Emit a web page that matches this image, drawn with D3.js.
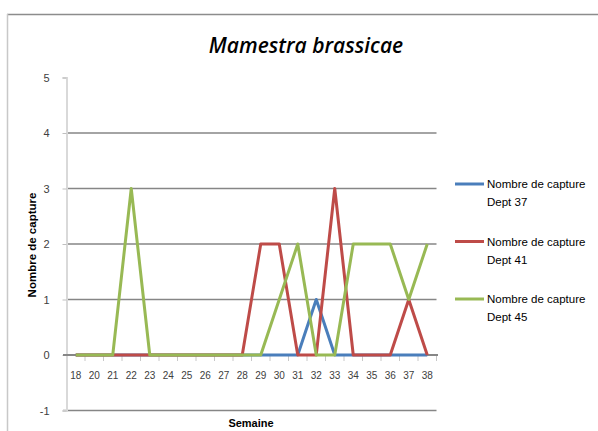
<!DOCTYPE html>
<html><head><meta charset="utf-8">
<script src="https://cdn.jsdelivr.net/npm/d3@7"></script>
<style>body{margin:0;background:#fff}svg{display:block}</style>
</head><body><div id="c"></div>
<script>
const categories = ["18","20","21","22","23","24","25","26","27","28","29","30","31","32","33","34","35","36","37","38"];
const dept37 = [0,0,0,0,0,0,0,0,0,0,0,0,0,1,0,0,0,0,0,0];
const dept41 = [0,0,0,0,0,0,0,0,0,0,2,2,0,0,3,0,0,0,1,0];
const dept45 = [0,0,0,3,0,0,0,0,0,0,0,1,2,0,0,2,2,2,1,2];
const seriesNames = ["Nombre de capture Dept 37","Nombre de capture Dept 41","Nombre de capture Dept 45"];
const colors = ["#4a7ebb","#be4b48","#98b954"];
const yTicks = [-1,0,1,2,3,4,5];

const W=598,H=431;
const svg=d3.select("#c").append("svg").attr("width",W).attr("height",H);
const font="'Liberation Sans', Arial, sans-serif";

// outer border (top & left visible)
svg.append("line").attr("x1",7).attr("x2",W).attr("y1",14.5).attr("y2",14.5).attr("stroke","#8c8c8c").attr("stroke-width",1.5);
svg.append("line").attr("x1",7.5).attr("x2",7.5).attr("y1",14).attr("y2",H).attr("stroke","#c8c8c8").attr("stroke-width",1.5);

const x=d3.scaleBand().domain(categories).range([66.5,436.5]);
const y=d3.scaleLinear().domain([-1,5]).range([410.5,77.5]);

// gridlines
svg.append("g").selectAll("line").data(yTicks.filter(v=>v>0&&v<5)).join("line")
  .attr("x1",66.5).attr("x2",436.5).attr("y1",d=>y(d)).attr("y2",d=>y(d))
  .attr("stroke","#868686").attr("stroke-width",1.5);
// bottom line at -1
svg.append("line").attr("x1",63).attr("x2",436.5).attr("y1",y(-1)).attr("y2",y(-1)).attr("stroke","#868686").attr("stroke-width",1.5);

// y axis
const yAxis=d3.axisLeft(y).tickValues(yTicks).tickSize(4).tickPadding(13).tickFormat(d=>String(d));
const ya=svg.append("g").attr("transform","translate(66.5,0)").call(yAxis);
ya.select(".domain").attr("stroke","#d9d9d9").attr("stroke-width",2);
ya.selectAll(".tick line").attr("stroke","#bfbfbf");
ya.selectAll("text").attr("font-family",font).attr("font-size",11).attr("fill","#404040");

// x axis at 0
const xAxis=d3.axisBottom(x).tickSize(0).tickPadding(17);
const xa=svg.append("g").attr("transform",`translate(0,${y(0)})`).call(xAxis);
xa.select(".domain").remove();
xa.selectAll("text").attr("font-family",font).attr("font-size",10).attr("fill","#404040");
svg.append("line").attr("x1",63).attr("x2",438).attr("y1",y(0)).attr("y2",y(0)).attr("stroke","#868686").attr("stroke-width",2);
svg.append("g").selectAll("line").data(categories).join("line")
  .attr("x1",d=>x(d)+x.bandwidth()).attr("x2",d=>x(d)+x.bandwidth())
  .attr("y1",y(0)+1).attr("y2",y(0)+6).attr("stroke","#c8c8c8").attr("stroke-width",1);

// lines
const line=d3.line().x((d,i)=>x(categories[i])+x.bandwidth()/2).y(d=>y(d));
[dept37,dept41,dept45].forEach((s,k)=>{
  svg.append("path").datum(s).attr("d",line).attr("fill","none")
    .attr("stroke",colors[k]).attr("stroke-width",3).attr("stroke-linejoin","round");
});

// title
svg.append("text").attr("x",306).attr("y",53).attr("text-anchor","middle")
  .attr("font-family","'Open Sans', sans-serif").attr("font-style","italic").attr("font-weight",600)
  .attr("font-size",21).attr("fill","#000").text("Mamestra brassicae");

// axis titles
svg.append("text").attr("transform","translate(36,245) rotate(-90)").attr("text-anchor","middle")
  .attr("font-family",font).attr("font-weight","bold").attr("font-size",11.5).text("Nombre de capture");
svg.append("text").attr("x",251).attr("y",427).attr("text-anchor","middle")
  .attr("font-family",font).attr("font-weight","bold").attr("font-size",11).text("Semaine");

// legend
const lg=svg.append("g");
seriesNames.forEach((n,k)=>{
  const ly=184+k*57.5;
  lg.append("line").attr("x1",455).attr("x2",484).attr("y1",ly).attr("y2",ly).attr("stroke",colors[k]).attr("stroke-width",3);
  const parts=[n.slice(0,17),n.slice(18)];
  lg.append("text").attr("x",487).attr("y",ly+4).attr("font-family",font).attr("font-size",11.5).attr("fill","#000").text(parts[0]);
  lg.append("text").attr("x",487).attr("y",ly+22).attr("font-family",font).attr("font-size",11.5).attr("fill","#000").text(parts[1]);
});
</script></body></html>
